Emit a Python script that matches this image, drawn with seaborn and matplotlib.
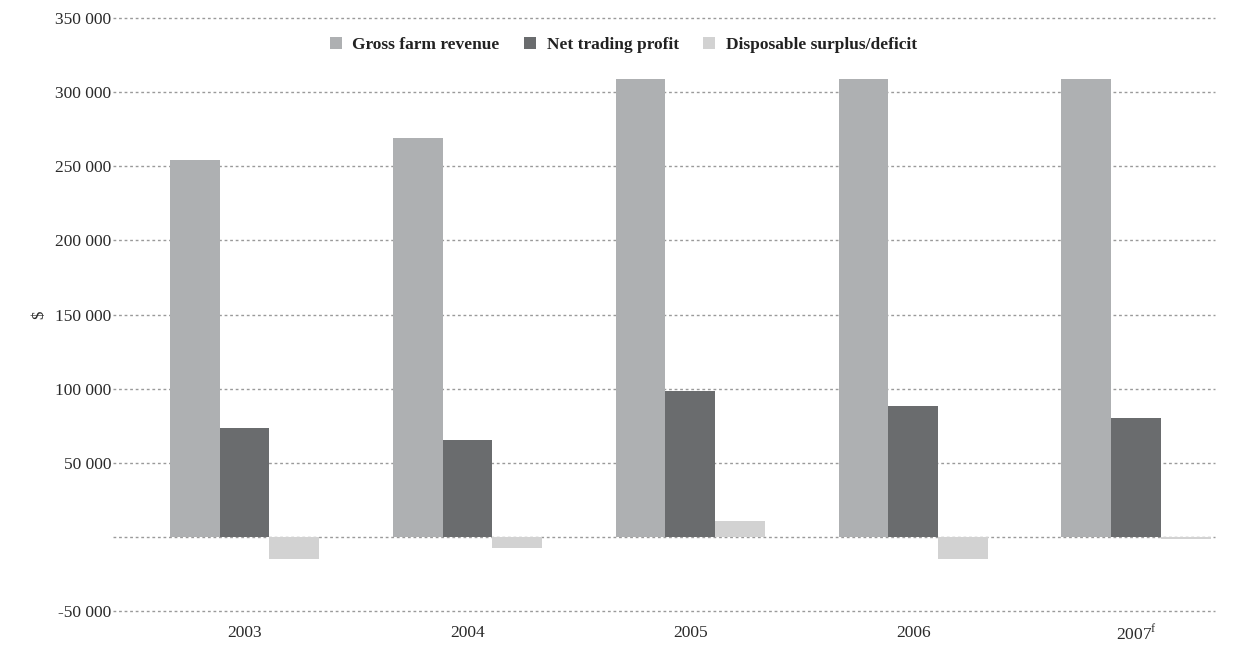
import matplotlib
matplotlib.use("Agg")
import matplotlib.pyplot as plt
import seaborn as sns
import pandas as pd

years = ["2003", "2004", "2005", "2006", "2007"]
year_labels = ["2003", "2004", "2005", "2006", "2007$^\\mathregular{f}$"]
series = ["Gross farm revenue", "Net trading profit", "Disposable surplus/deficit"]
gross = [254000, 269000, 309000, 309000, 309000]
net = [73500, 65500, 98500, 88000, 80500]
disposable = [-14800, -7400, 10800, -14800, -1500]
yticks = [-50000, 0, 50000, 100000, 150000, 200000, 250000, 300000, 350000]
ytick_labels = ["-50 000", "", "50 000", "100 000", "150 000", "200 000", "250 000", "300 000", "350 000"]
colors = ["#aeb0b2", "#6a6c6e", "#d2d2d2"]

rows = []
for s, vals in zip(series, [gross, net, disposable]):
    for y, v in zip(years, vals):
        rows.append({"year": y, "series": s, "value": v})
df = pd.DataFrame(rows)

sns.set_style("white")
plt.rcParams["font.family"] = ["Liberation Serif", "DejaVu Serif"]

fig = plt.figure(figsize=(12.35, 6.47), dpi=100)
ax = fig.add_axes([0.0915, 0.0556, 0.8925, 0.9164])

sns.barplot(data=df, x="year", y="value", hue="series", order=years, hue_order=series,
            palette=colors, saturation=1, width=0.67, ax=ax, linewidth=0, edgecolor="none")

ax.set_ylim(-50000, 350000)
ax.set_xlim(-0.59, 4.355)
ax.set_yticks(yticks)
ax.set_yticklabels(ytick_labels, fontsize=12.5, color="#2a2a2a")
ax.set_xticks(range(len(years)))
ax.set_xticklabels(year_labels, fontsize=12.5, color="#2a2a2a")
ax.tick_params(axis="both", length=0, pad=1)
ax.tick_params(axis="x", pad=10)
ax.set_axisbelow(True)
ax.grid(axis="y", linestyle=(0, (2, 2)), color="#9a9a9a", linewidth=1)
ax.grid(axis="x", visible=False)
for gl in ax.get_ygridlines():
    gl.set_clip_on(False)
for sp in ax.spines.values():
    sp.set_visible(False)
ax.set_xlabel("")
ax.set_ylabel("$", fontsize=12, color="#2a2a2a", rotation=90, labelpad=6)

leg = ax.legend(ncol=3, loc="center", bbox_to_anchor=(0.463, 0.954), frameon=False,
                handlelength=0.7, handleheight=0.7, handletextpad=0.6, columnspacing=1.4,
                prop={"weight": "bold", "size": 12.5})
for t in leg.get_texts():
    t.set_color("#222222")

fig.savefig("out.png", dpi=100, facecolor="white")
